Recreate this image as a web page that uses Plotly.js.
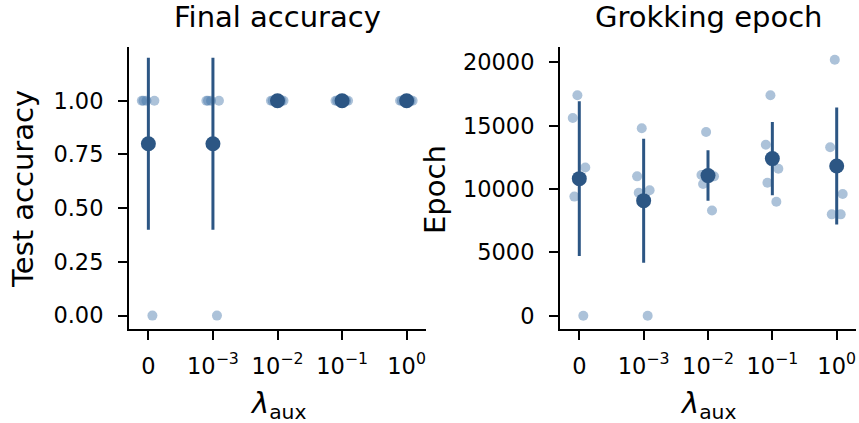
<!DOCTYPE html>
<html>
<head>
<meta charset="utf-8">
<script src="https://cdn.plot.ly/plotly-3.0.1.min.js"></script>
<style>html,body{margin:0;padding:0;background:#fff}#chart{width:859px;height:423px}</style>
</head>
<body>
<div id="chart"></div>
<script>
// ---- data ----
const lambdaPositions = [0, 1, 2, 3, 4];
const lambdaLabels = ['0', '10<sup>−3</sup>', '10<sup>−2</sup>', '10<sup>−1</sup>', '10<sup>0</sup>'];
const accTicks = [0, 0.25, 0.5, 0.75, 1.0];
const epochTicks = [0, 5000, 10000, 15000, 20000];
// per-seed final test accuracy for each lambda_aux
const accLam0    = [1, 1, 1, 1, 0];
const accLam1e3  = [1, 1, 1, 1, 0];
const accLam1e2  = [1, 1, 1, 1, 1];
const accLam1e1  = [1, 1, 1, 1, 1];
const accLam1e0  = [1, 1, 1, 1, 1];
// per-seed grokking epoch for each lambda_aux
const epLam0    = [17400, 15600, 11700, 9400, 0];
const epLam1e3  = [14800, 11000, 9900, 9700, 0];
const epLam1e2  = [14500, 11100, 11000, 10400, 8300];
const epLam1e1  = [17400, 13500, 11600, 10500, 9000];
const epLam1e0  = [20200, 13300, 9600, 8000, 8000];

const accGroups = [accLam0, accLam1e3, accLam1e2, accLam1e1, accLam1e0];
const epGroups  = [epLam0, epLam1e3, epLam1e2, epLam1e1, epLam1e0];

// ---- styling ----
const FONT = 'DejaVu Sans, sans-serif';
const DARK = '#2c5684';
const LIGHT = 'rgba(70,120,170,0.45)';
const W = 859, H = 423;
const fx = p => p / W;
const fy = p => 1 - p / H;
const TICK = 22.5, LABEL = 29;

function mean(a){ return a.reduce((s,v)=>s+v,0)/a.length; }
function sd(a){ const m = mean(a); return Math.sqrt(a.reduce((s,v)=>s+(v-m)*(v-m),0)/a.length); }

function stripTraces(groups, xa, ya){
  return groups.map((g, i) => ({
    type: 'box',
    x: g.map(() => lambdaPositions[i]),
    y: g,
    xaxis: xa, yaxis: ya,
    boxpoints: 'all', jitter: 0.4, pointpos: 0,
    fillcolor: 'rgba(0,0,0,0)',
    line: {width: 0, color: 'rgba(0,0,0,0)'},
    marker: {color: LIGHT, size: 10, line: {width: 0}},
    width: 0.6,
    showlegend: false, hoverinfo: 'y'
  }));
}
function meanTrace(groups, xa, ya){
  return {
    type: 'scatter', mode: 'markers',
    x: lambdaPositions,
    y: groups.map(mean),
    error_y: {type: 'data', array: groups.map(sd), visible: true, color: DARK, thickness: 3, width: 0},
    marker: {color: DARK, size: 15},
    xaxis: xa, yaxis: ya, showlegend: false
  };
}

const traces = [
  ...stripTraces(accGroups, 'x', 'y'),
  meanTrace(accGroups, 'x', 'y'),
  ...stripTraces(epGroups, 'x2', 'y2'),
  meanTrace(epGroups, 'x2', 'y2')
];

const axCommon = {
  showline: true, linewidth: 2, linecolor: '#000',
  ticks: 'outside', ticklen: 9, tickwidth: 2, tickcolor: '#000',
  showgrid: false, zeroline: false,
  tickfont: {family: FONT, size: TICK, color: '#000'},
  fixedrange: true
};
const plotTop = 47, plotBot = 328.5;

const layout = {
  width: W, height: H,
  margin: {l: 0, r: 0, t: 0, b: 0},
  paper_bgcolor: '#fff', plot_bgcolor: '#fff',
  font: {family: FONT, color: '#000'},
  boxmode: 'overlay',
  xaxis: Object.assign({}, axCommon, {
    domain: [fx(129), fx(426)], range: [-0.3, 4.3], anchor: 'y',
    tickmode: 'array', tickvals: lambdaPositions, ticktext: lambdaLabels, ticklabelstandoff: 7
  }),
  yaxis: Object.assign({}, axCommon, {
    domain: [fy(plotBot), fy(plotTop)], range: [-0.06, 1.25], anchor: 'x',
    tickmode: 'array', tickvals: accTicks, ticktext: accTicks.map(v => v.toFixed(2)), ticklabelstandoff: 10
  }),
  xaxis2: Object.assign({}, axCommon, {
    domain: [fx(560), fx(856)], range: [-0.3, 4.3], anchor: 'y2',
    tickmode: 'array', tickvals: lambdaPositions, ticktext: lambdaLabels, ticklabelstandoff: 7
  }),
  yaxis2: Object.assign({}, axCommon, {
    domain: [fy(plotBot), fy(plotTop)], range: [-1010, 21210], anchor: 'x2',
    tickmode: 'array', tickvals: epochTicks, ticktext: epochTicks.map(String), ticklabelstandoff: 10
  }),
  annotations: [
    {text: 'Final accuracy', xref: 'paper', yref: 'paper', x: fx(277.5), y: fy(17), xanchor: 'center', yanchor: 'middle', showarrow: false, font: {family: FONT, size: LABEL}},
    {text: 'Grokking epoch', xref: 'paper', yref: 'paper', x: fx(708), y: fy(17), xanchor: 'center', yanchor: 'middle', showarrow: false, font: {family: FONT, size: LABEL}},
    {text: 'Test accuracy', xref: 'paper', yref: 'paper', x: fx(23), y: fy(189), xanchor: 'center', yanchor: 'middle', textangle: -90, showarrow: false, font: {family: FONT, size: LABEL}},
    {text: 'Epoch', xref: 'paper', yref: 'paper', x: fx(435), y: fy(190), xanchor: 'center', yanchor: 'middle', textangle: -90, showarrow: false, font: {family: FONT, size: LABEL}},
    {text: '<i>λ</i><sub>aux</sub>', xref: 'paper', yref: 'paper', x: fx(278), y: fy(405), xanchor: 'center', yanchor: 'middle', showarrow: false, font: {family: FONT, size: LABEL}},
    {text: '<i>λ</i><sub>aux</sub>', xref: 'paper', yref: 'paper', x: fx(708), y: fy(405), xanchor: 'center', yanchor: 'middle', showarrow: false, font: {family: FONT, size: LABEL}}
  ]
};

Plotly.newPlot('chart', traces, layout, {displayModeBar: false, staticPlot: true});
</script>
</body>
</html>
